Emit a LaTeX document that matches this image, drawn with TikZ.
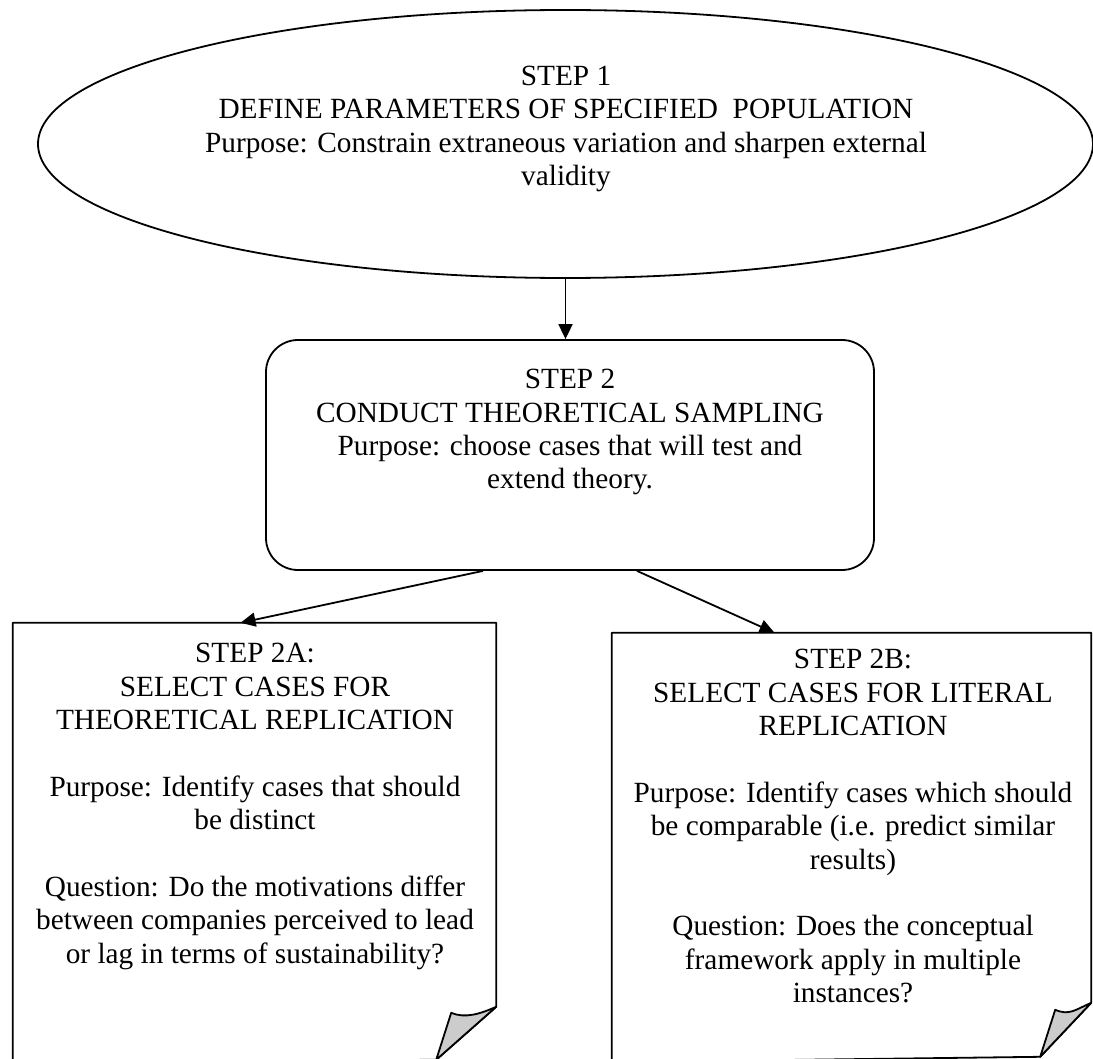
\documentclass[tikz,border=0pt]{standalone}
\usepackage{fontspec}
\setmainfont{Liberation Serif}
\usetikzlibrary{shapes.geometric,arrows.meta,calc}
\begin{document}
\begin{tikzpicture}[x=1pt,y=-1pt,
  line/.style={line width=1.8pt},
  arr/.style={line width=1.8pt,-{Triangle[length=15pt,width=14pt]}},
  txt/.style={align=center,inner sep=0pt,font=\fontsize{29.3}{33.4}\selectfont,anchor=north},
  fold/.style={line width=1.8pt,fill=black!20,line join=round}]
\useasboundingbox (0,0) rectangle (1093,1059);
\clip (0,0) rectangle (1093,1059);

% step 1: population
\node[line,draw,ellipse,minimum width=1055pt,minimum height=268pt,inner sep=0pt] (s1) at (565.5,144) {};
\node[txt] (t1) at (566,66) {STEP 1\\DEFINE PARAMETERS OF SPECIFIED\ \ POPULATION\\Purpose: Constrain extraneous variation and sharpen external\\validity};

% step 2: sampling
\node[line,draw,rounded corners=32pt,minimum width=608pt,minimum height=230pt,inner sep=0pt] (s2) at (570,455) {};
\node[txt] (t2) at (570,369) {STEP 2\\CONDUCT THEORETICAL SAMPLING\\Purpose: choose cases that will test and\\extend theory.};

% step 2a / 2b: folded-corner sheets
\node[minimum width=483pt,minimum height=439pt,inner sep=0pt] (s2a) at (254.5,842.5) {};
\node[minimum width=479pt,minimum height=429pt,inner sep=0pt] (s2b) at (851.5,847.5) {};

\draw[line,line join=round] (s2a.south west) -- (s2a.north west) -- (s2a.north east)
  -- ++(0,384) coordinate (fa) -- ++(-60,53) coordinate (fa2) -- (s2a.south west);
\draw[fold] (fa2) -- ++(15,-47) .. controls +(14,6) and +(-16,7) .. (fa) -- cycle;

\draw[line,line join=round] (s2b.south west) -- (s2b.north west) -- (s2b.north east)
  -- ++(0,370) coordinate (fb) -- ++(-51,54) coordinate (fb2) -- (s2b.south west);
\draw[fold] (fb2) -- ++(15,-47) .. controls +(14,6) and +(-16,7) .. (fb) -- cycle;

\node[txt] (t2a) at (255,643) {STEP 2A:\\SELECT CASES FOR\\THEORETICAL REPLICATION\\[33.4pt]Purpose: Identify cases that should\\be distinct\\[33.4pt]Question: Do the motivations differ\\between companies perceived to lead\\or lag in terms of sustainability?};
\node[txt] (t2b) at (853,649) {STEP 2B:\\SELECT CASES FOR LITERAL\\REPLICATION\\[33.4pt]Purpose: Identify cases which should\\be comparable (i.e. predict similar\\results)\\[33.4pt]Question: Does the conceptual\\framework apply in multiple\\instances?};

% connectors
\draw[arr] (s1.south) -- (s1.south |- s2.north);
\draw[arr] ($(s2.south)+(-87,0)$) -- ($(s2a.north)+(-14,0)$);
\draw[arr] ($(s2.south)+(67,0)$) -- ($(s2b.north)+(-77,0)$);
\end{tikzpicture}
\end{document}
